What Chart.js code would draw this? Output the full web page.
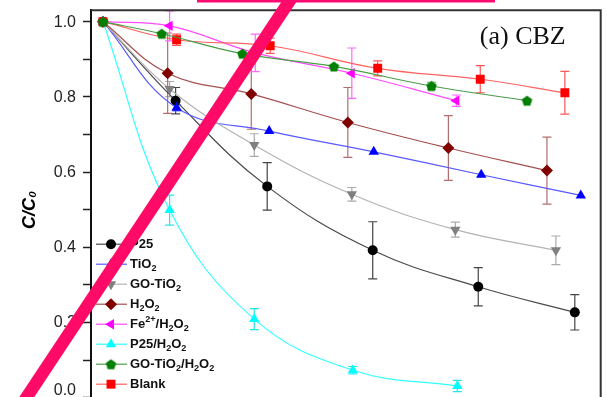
<!DOCTYPE html>
<html>
<head>
<meta charset="utf-8">
<script src="https://cdn.jsdelivr.net/npm/chart.js@4.4.1/dist/chart.umd.min.js"></script>
<style>
  html, body { margin: 0; padding: 0; background: #fff; overflow: hidden; }
  #wrap { width: 607px; height: 397px; overflow: hidden; }
</style>
</head>
<body>
<div id="wrap"><canvas id="c" width="607" height="420"></canvas></div>
<script>
// time (min) and C/C0, one set per sample
const p25Time = [0, 18.25, 41.25, 67.75, 94.25, 118.5];
const p25Ratio = [1.0, 0.790, 0.562, 0.392, 0.295, 0.227];
const p25Err = [0, 0.035, 0.063, 0.076, 0.051, 0.047];

const tio2Time = [0, 18.5, 41.75, 68, 95, 120];
const tio2Ratio = [1.0, 0.771, 0.709, 0.654, 0.593, 0.538];
const tio2Err = [0, 0.008, 0, 0, 0, 0];

const goTio2Time = [0, 16.75, 38, 62.5, 88.5, 113.75];
const goTio2Ratio = [1.0, 0.821, 0.672, 0.541, 0.447, 0.392];
const goTio2Err = [0, 0.02, 0.03, 0.018, 0.02, 0.038];

const h2o2Time = [0, 16.25, 37.25, 61.5, 86.75, 111.5];
const h2o2Ratio = [1.0, 0.863, 0.808, 0.732, 0.664, 0.604];
const h2o2Err = [0, 0.107, 0.094, 0.093, 0.086, 0.089];

const feH2o2Time = [0, 16.75, 38.25, 62.5, 88.75];
const feH2o2Ratio = [1.0, 0.989, 0.917, 0.863, 0.790];
const feH2o2Err = [0, 0.04, 0.05, 0.067, 0.015];

const p25H2o2Time = [0, 16.75, 38, 62.75, 89];
const p25H2o2Ratio = [1.0, 0.499, 0.209, 0.073, 0.031];
const p25H2o2Err = [0, 0.04, 0.028, 0.01, 0.015];

const goTio2H2o2Time = [0, 14.75, 35, 58, 82.5, 106.5];
const goTio2H2o2Ratio = [1.0, 0.968, 0.915, 0.881, 0.829, 0.790];
const goTio2H2o2Err = [0, 0, 0, 0, 0.01, 0];

const blankTime = [0, 18.5, 42, 69, 94.75, 116];
const blankRatio = [1.0, 0.952, 0.936, 0.876, 0.847, 0.811];
const blankErr = [0, 0.015, 0.02, 0.02, 0.036, 0.057];

const yTickLabels = [1.0, 0.8, 0.6, 0.4, 0.2, 0.0];
const panelLabel = '(a) CBZ';

Chart.defaults.font.family = '"Liberation Sans", Arial, sans-serif';

// green pentagon marker (no built-in style for it)
function pentagon(color, r) {
  const c = document.createElement('canvas');
  const s = Math.ceil(r * 2 + 2);
  c.width = s; c.height = s;
  const g = c.getContext('2d');
  g.beginPath();
  for (let i = 0; i < 5; i++) {
    const a = -Math.PI / 2 + i * 2 * Math.PI / 5;
    const px = s / 2 + r * Math.cos(a), py = s / 2 + r * Math.sin(a) + 0.5;
    i ? g.lineTo(px, py) : g.moveTo(px, py);
  }
  g.closePath();
  g.fillStyle = color;
  g.fill();
  return c;
}

function series(label, time, ratio, err, st) {
  return {
    label,
    data: time.map((t, i) => ({ x: t, y: ratio[i] })),
    err,
    errColor: st.err,
    borderColor: st.line,
    borderWidth: 1.2,
    backgroundColor: st.mark,
    pointBackgroundColor: st.mark,
    pointBorderColor: st.mark,
    pointBorderWidth: 0,
    pointStyle: st.style,
    pointRotation: st.rot || 0,
    pointRadius: st.r,
    tension: 0.4,
    fill: false
  };
}

const datasets = [
  series('P25', p25Time, p25Ratio, p25Err, { line: '#4a4a4a', mark: '#000000', err: '#444444', style: 'circle', r: 5 }),
  series('TiO_2', tio2Time, tio2Ratio, tio2Err, { line: '#5a5aff', mark: '#0000ff', err: '#6666ff', style: 'triangle', r: 6 }),
  series('GO-TiO_2', goTio2Time, goTio2Ratio, goTio2Err, { line: '#b4b4b4', mark: '#808080', err: '#aaaaaa', style: 'triangle', rot: 180, r: 6 }),
  series('H_2O_2', h2o2Time, h2o2Ratio, h2o2Err, { line: '#a5504f', mark: '#800000', err: '#b26e6e', style: 'rectRot', r: 6 }),
  series('Fe^{2+}/H_2O_2', feH2o2Time, feH2o2Ratio, feH2o2Err, { line: '#ff4cff', mark: '#ff00ff', err: '#ff66ff', style: 'triangle', rot: 270, r: 6 }),
  series('P25/H_2O_2', p25H2o2Time, p25H2o2Ratio, p25H2o2Err, { line: '#33ffff', mark: '#00ffff', err: '#22e6e6', style: 'triangle', r: 6 }),
  series('GO-TiO_2/H_2O_2', goTio2H2o2Time, goTio2H2o2Ratio, goTio2H2o2Err, { line: '#4c9e4c', mark: '#008000', err: '#55aa55', style: pentagon('#008000', 5.5), r: 6 }),
  series('Blank', blankTime, blankRatio, blankErr, { line: '#ff6262', mark: '#ff0000', err: '#ff5555', style: 'rect', r: 6.3 })
];
// later series sit on top, the green one topmost
datasets.forEach((ds, i) => { ds.order = datasets.length - i; });
datasets[6].order = 0;

// draws "TiO_2" / "Fe^{2+}" style labels with real sub/superscripts
function richText(ctx, str, x, y, size) {
  let i = 0;
  while (i < str.length) {
    let txt, dy = 0, fs = size;
    if (str[i] === '_') { txt = str[i + 1]; i += 2; dy = 4; fs = size * 0.7; }
    else if (str[i] === '^') {
      const end = str.indexOf('}', i);
      txt = str.slice(i + 2, end); i = end + 1; dy = -5; fs = size * 0.7;
    } else {
      let j = i;
      while (j < str.length && str[j] !== '_' && str[j] !== '^') j++;
      txt = str.slice(i, j); i = j;
    }
    ctx.font = 'bold ' + fs + 'px "Liberation Sans", Arial, sans-serif';
    ctx.fillText(txt, x, y + dy);
    x += ctx.measureText(txt).width;
  }
}

const errorBars = {
  id: 'errorBars',
  beforeDatasetsDraw(chart) {
    const { ctx, scales: { x, y } } = chart;
    ctx.save();
    ctx.lineWidth = 1.2;
    chart.data.datasets.forEach(ds => {
      ctx.strokeStyle = ds.errColor;
      ds.data.forEach((p, i) => {
        const e = ds.err[i];
        if (!e) return;
        const px = x.getPixelForValue(p.x);
        const top = y.getPixelForValue(p.y + e), bot = y.getPixelForValue(p.y - e);
        ctx.beginPath();
        ctx.moveTo(px, top); ctx.lineTo(px, bot);
        ctx.moveTo(px - 4.5, top); ctx.lineTo(px + 4.5, top);
        ctx.moveTo(px - 4.5, bot); ctx.lineTo(px + 4.5, bot);
        ctx.stroke();
      });
    });
    ctx.restore();
  }
};

const decor = {
  id: 'decor',
  afterDraw(chart) {
    const { ctx, chartArea: a, scales: { y } } = chart;
    ctx.save();
    // top and right frame
    ctx.strokeStyle = '#333';
    ctx.lineWidth = 2;
    ctx.beginPath();
    ctx.moveTo(a.left, a.top); ctx.lineTo(a.right, a.top); ctx.lineTo(a.right, a.bottom);
    ctx.stroke();

    // y tick labels
    ctx.fillStyle = '#222';
    ctx.font = '16px "Liberation Sans", Arial, sans-serif';
    ctx.textAlign = 'right';
    ctx.textBaseline = 'middle';
    yTickLabels.forEach(v => {
      const py = Math.min(y.getPixelForValue(v), 390);
      ctx.fillText(v.toFixed(1), a.left - 15, py + 0.5);
    });

    // panel label
    ctx.fillStyle = '#111';
    ctx.font = '26px "Liberation Serif", "Times New Roman", serif';
    ctx.textBaseline = 'alphabetic';
    ctx.fillText(panelLabel, a.right - 35, a.top + 34);

    // legend: line + marker + label
    ctx.textAlign = 'left';
    ctx.textBaseline = 'middle';
    chart.data.datasets.forEach((ds, i) => {
      const ry = a.top + 234 + i * 20;
      const lx = a.left + 5;
      ctx.strokeStyle = ds.borderColor;
      ctx.lineWidth = 1.2;
      ctx.beginPath(); ctx.moveTo(lx, ry); ctx.lineTo(lx + 31, ry); ctx.stroke();
      ctx.fillStyle = ds.pointBackgroundColor;
      ctx.strokeStyle = ds.pointBackgroundColor;
      Chart.helpers.drawPoint(ctx, { pointStyle: ds.pointStyle, rotation: ds.pointRotation, radius: ds.pointRadius, borderWidth: 0 }, lx + 15, ry);
      ctx.fillStyle = '#111';
      richText(ctx, ds.label, lx + 34, ry, 13);
    });

    // pink strike-through drawn over the figure
    ctx.strokeStyle = '#ff0a66';
    ctx.lineWidth = 12.5;
    ctx.beginPath();
    ctx.moveTo(27 - 40, 397 + 60);
    ctx.lineTo(290 + 30, -45);
    ctx.stroke();
    ctx.fillStyle = '#ff0a70';
    ctx.fillRect(197, 0, 298, 2.5);
    ctx.restore();
  }
};

new Chart(document.getElementById('c'), {
  type: 'line',
  data: { datasets },
  plugins: [errorBars, decor],
  options: {
    responsive: false,
    animation: false,
    devicePixelRatio: 1,
    layout: { padding: { top: 9, right: 5, bottom: 5, left: 0 } },
    plugins: { legend: { display: false }, tooltip: { enabled: false } },
    scales: {
      x: { type: 'linear', min: -3, max: 125, display: false },
      y: {
        min: -0.0322,
        max: 1.0306,
        afterFit(s) { s.width = 91; },
        ticks: { stepSize: 0.1, includeBounds: false, callback: () => '' },
        grid: { drawOnChartArea: false, tickLength: 8, tickColor: '#222', tickWidth: 1.5 },
        border: { display: true, color: '#111', width: 2 },
        title: {
          display: true,
          text: 'C/C₀',
          color: '#000',
          font: { size: 18, weight: 'bold', style: 'italic' },
          padding: { top: 19, bottom: 0 }
        }
      }
    }
  }
});
</script>
</body>
</html>
